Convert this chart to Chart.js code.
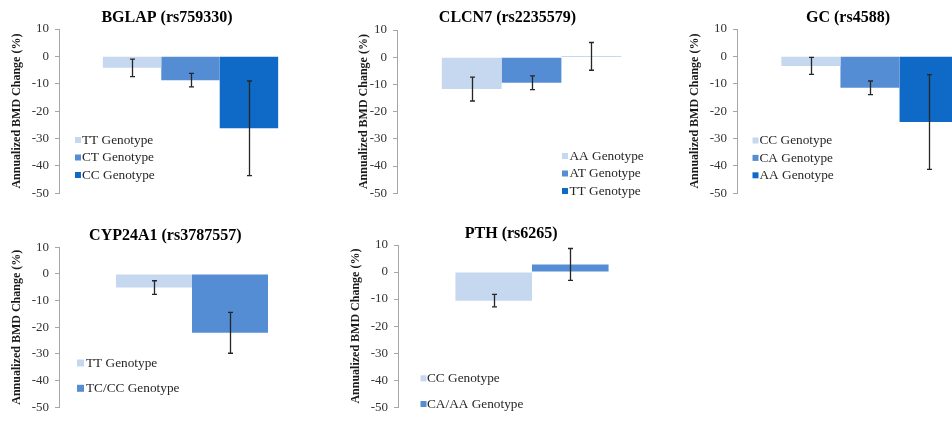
<!DOCTYPE html>
<html><head><meta charset="utf-8">
<script src="https://cdn.jsdelivr.net/npm/chart.js@4.4.1/dist/chart.umd.min.js"></script>
<style>
html,body{margin:0;padding:0;width:952px;height:421px;overflow:hidden;background:#fff;position:relative}
canvas{position:absolute}
</style></head><body>
<canvas id="c1"></canvas><canvas id="c2"></canvas><canvas id="c3"></canvas><canvas id="c4"></canvas><canvas id="c5"></canvas>
<script>
// ---- data ----
const yTicks = [10, 0, -10, -20, -30, -40, -50];
const axisTitle = 'Annualized BMD Change (%)';

const bglapTitle = 'BGLAP (rs759330)';
const bglapGenotypes = ['TT Genotype', 'CT Genotype', 'CC Genotype'];
const bglapMeans = [-4.2, -8.7, -26.3];
const bglapErrors = [3.2, 2.45, 17.3];

const clcn7Title = 'CLCN7 (rs2235579)';
const clcn7Genotypes = ['AA Genotype', 'AT Genotype', 'TT Genotype'];
const clcn7Means = [-11.7, -9.4, 0.3];
const clcn7Errors = [4.4, 2.5, 5.1];

const gcTitle = 'GC (rs4588)';
const gcGenotypes = ['CC Genotype', 'CA Genotype', 'AA Genotype'];
const gcMeans = [-3.5, -11.5, -24.0];
const gcErrors = [3.1, 2.5, 17.3];

const cypTitle = 'CYP24A1 (rs3787557)';
const cypGenotypes = ['TT Genotype', 'TC/CC Genotype'];
const cypMeans = [-5.1, -22.1];
const cypErrors = [2.55, 7.65];

const pthTitle = 'PTH (rs6265)';
const pthGenotypes = ['CC Genotype', 'CA/AA Genotype'];
const pthMeans = [-10.6, 2.8];
const pthErrors = [2.3, 5.9];

const LIGHT = '#c5d8f0', MEDIUM = '#548dd4', DARK = '#0e6ac6';

// ---- plugins ----
const errorPlugin = {
  id: 'errorBars',
  afterDatasetsDraw(chart) {
    const ctx = chart.ctx, ys = chart.scales.y;
    ctx.save();
    ctx.strokeStyle = '#262626';
    ctx.lineWidth = 1.3;
    chart.data.datasets.forEach((ds, i) => {
      const el = chart.getDatasetMeta(i).data[0];
      const v = ds.data[0], e = ds.err;
      const x = Math.round(el.x) + 0.5;
      const y1 = ys.getPixelForValue(v + e), y2 = ys.getPixelForValue(v - e);
      ctx.beginPath();
      ctx.moveTo(x, y1); ctx.lineTo(x, y2);
      ctx.moveTo(x - 2.5, y1); ctx.lineTo(x + 2.5, y1);
      ctx.moveTo(x - 2.5, y2); ctx.lineTo(x + 2.5, y2);
      ctx.stroke();
    });
    ctx.restore();
  }
};
const legendPlugin = {
  id: 'panelLegend',
  afterDraw(chart, args, o) {
    const ctx = chart.ctx;
    ctx.save();
    ctx.font = '13.3px "Liberation Serif"';
    ctx.textBaseline = 'middle';
    ctx.textAlign = 'left';
    chart.data.datasets.forEach((ds, i) => {
      const cy = o.y + i * o.spacing;
      ctx.fillStyle = ds.backgroundColor;
      ctx.fillRect(o.x, cy - o.box / 2, o.box, o.box);
      ctx.fillStyle = '#262626';
      ctx.fillText(ds.label, o.tx, cy + 0.5);
    });
    ctx.restore();
  }
};

function makePanel(id, p) {
  const cv = document.getElementById(id);
  cv.width = p.w; cv.height = p.h;
  cv.style.left = p.left + 'px'; cv.style.top = p.top + 'px';
  cv.style.width = p.w + 'px'; cv.style.height = p.h + 'px';
  const n = p.labels.length;
  new Chart(cv, {
    type: 'bar',
    data: {
      labels: [''],
      datasets: p.labels.map((lab, i) => ({
        label: lab, data: [p.means[i]], err: p.errors[i],
        backgroundColor: p.colors[i], borderWidth: 0,
        categoryPercentage: n / (n + 1.5), barPercentage: 1
      }))
    },
    options: {
      responsive: false, animation: false, devicePixelRatio: 1,
      layout: { padding: { left: p.padL, right: 0, top: 0, bottom: p.padB } },
      plugins: {
        legend: { display: false }, tooltip: { enabled: false },
        title: { display: true, text: p.title, color: '#000',
          font: { family: 'Liberation Serif', size: 16, weight: 'bold', lineHeight: 1.2 },
          padding: { top: p.tPt, bottom: p.tPb } },
        panelLegend: p.legend
      },
      scales: {
        x: { display: false },
        y: {
          min: -50, max: 10,
          afterFit: s => { s.width = p.yW; },
          afterBuildTicks: s => { s.ticks = yTicks.map(v => ({ value: v })); },
          ticks: { color: '#333333', font: { family: 'Liberation Serif', size: 13 }, padding: 6 },
          grid: { display: true, drawOnChartArea: false, drawTicks: true, tickLength: 4, color: '#a6a6a6' },
          border: { display: true, color: '#a6a6a6' },
          title: { display: true, text: axisTitle, color: '#1a1a1a',
            font: { family: 'Liberation Serif', size: 12, weight: 'bold', lineHeight: 1 },
            padding: { top: p.aPt, bottom: 0 } }
        }
      }
    },
    plugins: [errorPlugin, legendPlugin]
  });
}

makePanel('c1', { left: 0, top: 0, w: 322, h: 207, padL: 12, padB: 10, yW: 47, aPt: -1.3, tPt: 7.9, tPb: 1.9,
  title: bglapTitle, labels: bglapGenotypes, means: bglapMeans, errors: bglapErrors, colors: [LIGHT, MEDIUM, DARK],
  legend: { x: 75, tx: 82, y: 140, spacing: 17.5, box: 6 } });
makePanel('c2', { left: 330, top: 0, w: 336, h: 207, padL: 19, padB: 10, yW: 48, aPt: 8.5, tPt: 7.9, tPb: 2.9,
  title: clcn7Title, labels: clcn7Genotypes, means: clcn7Means, errors: clcn7Errors, colors: [LIGHT, MEDIUM, DARK],
  legend: { x: 232, tx: 239.5, y: 156, spacing: 17.5, box: 6 } });
makePanel('c3', { left: 670, top: 0, w: 333, h: 207, padL: 23, padB: 10, yW: 44, aPt: -4.3, tPt: 8.4, tPb: 1.4,
  title: gcTitle, labels: gcGenotypes, means: gcMeans, errors: gcErrors, colors: [LIGHT, MEDIUM, DARK],
  legend: { x: 82.5, tx: 89.5, y: 140.5, spacing: 17.4, box: 6 } });
makePanel('c4', { left: 0, top: 215, w: 325, h: 206, padL: 5.6, padB: 9.3, yW: 53.4, aPt: 5.1, tPt: 10.9, tPb: 2.2,
  title: cypTitle, labels: cypGenotypes, means: cypMeans, errors: cypErrors, colors: [LIGHT, MEDIUM],
  legend: { x: 77, tx: 86, y: 148, spacing: 25.3, box: 7 } });
makePanel('c5', { left: 330, top: 215, w: 336, h: 206, padL: 26.4, padB: 9.3, yW: 41.6, aPt: -6.4, tPt: 8.9, tPb: 1.9,
  title: pthTitle, labels: pthGenotypes, means: pthMeans, errors: pthErrors, colors: [LIGHT, MEDIUM],
  legend: { x: 90.5, tx: 97, y: 163.3, spacing: 25.7, box: 6 } });
</script>
</body></html>
